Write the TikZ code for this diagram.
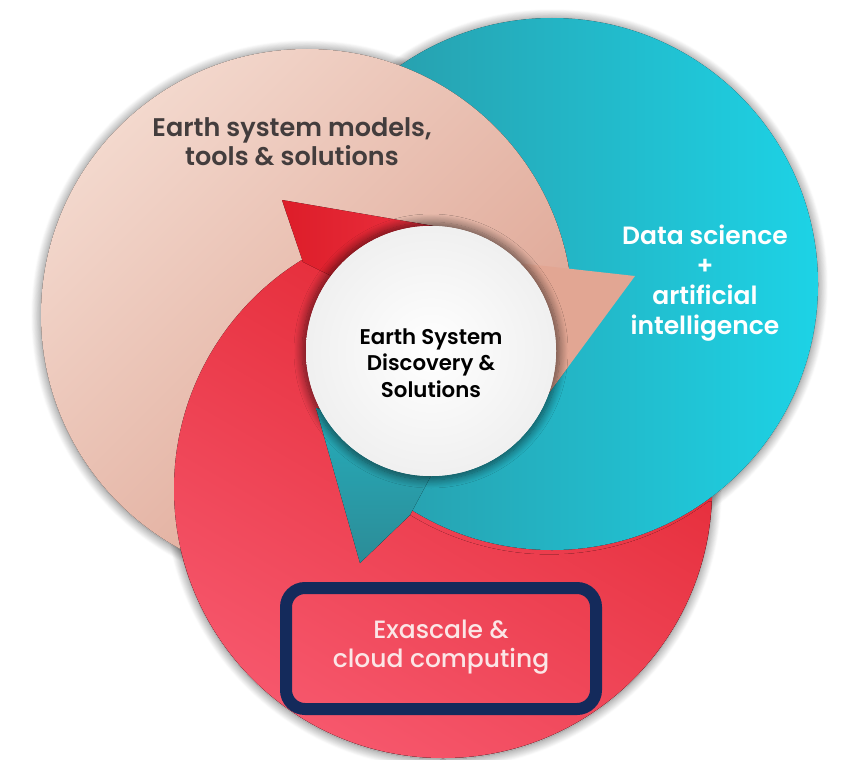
\documentclass[tikz,border=0pt]{standalone}
\usepackage{fontspec}
\newfontfamily\popsemi{Poppins SemiBold}
\newfontfamily\popmed{Poppins Medium}
\usetikzlibrary{shadows.blur}

\definecolor{peachA}{HTML}{F3D8CD}
\definecolor{peachB}{HTML}{DC9F8D}
\definecolor{peachArrow}{HTML}{E2A693}
\definecolor{tealA}{HTML}{2A94A1}
\definecolor{tealB}{HTML}{1DD3E6}
\definecolor{tealArrowA}{HTML}{25ADBB}
\definecolor{tealArrowB}{HTML}{2C8C97}
\definecolor{redA}{HTML}{E1222D}
\definecolor{redB}{HTML}{F6576C}
\definecolor{redArrowA}{HTML}{DD1D29}
\definecolor{redArrowB}{HTML}{EC3241}
\definecolor{navy}{HTML}{142A5B}
\definecolor{inkgray}{HTML}{433D3D}
\definecolor{softwhite}{HTML}{FBE6E6}

\tikzset{
  peachfill/.style={top color=peachA, bottom color=peachB, shading angle=45},
  tealfill/.style={left color=tealA, right color=tealB},
  redfill/.style={top color=redA, bottom color=redB, shading angle=-30},
  halo/.style={blur shadow={shadow xshift=0pt, shadow yshift=-1pt,
      shadow blur radius=10pt, shadow opacity=60, shadow blur steps=12}},
  corehalo/.style={blur shadow={shadow xshift=0pt, shadow yshift=0pt,
      shadow scale=1.03, shadow blur radius=8pt, shadow opacity=55,
      shadow blur steps=12}},
  labeltext/.style={align=center, inner sep=0pt},
}

\begin{document}
\begin{tikzpicture}[x=1pt, y=-1pt]
\useasboundingbox (0,0) rectangle (843,760);

% soft drop shadow below the three discs
\fill[white, halo] (443,489) circle[radius=269pt];
\fill[white, halo] (552,284) circle[radius=266pt];
\fill[white, halo] (307,315) circle[radius=266pt];

% red disc (bottom layer)
\fill[redfill] (443,489) circle[radius=269pt];
% teal disc
\fill[tealfill] (552,284) circle[radius=266pt];
% peach disc, cut away where teal and red run over it
\begin{scope}
  \clip (0,0) -- (843,0) -- (843,276) -- (635,276) -- (540,405) -- (430,352)
        -- (360,563) -- (300,760) -- (0,760) -- cycle;
  \fill[peachfill] (307,315) circle[radius=266pt];
\end{scope}
% peach arrowhead pointing into the teal disc
\fill[peachArrow] (500,261) -- (635,276) -- (540,405) -- cycle;

% red disc again, lying over peach on the left and filling everything
% below the teal rim
\begin{scope}
  \clip (0,154) -- (445,228) -- (430,352) -- (360,563) -- (410,515)
        arc[start angle=121.6, end angle=53.2, radius=266]
        -- (843,498) -- (843,760) -- (0,760) -- cycle;
  \fill[redfill] (443,489) circle[radius=269pt];
\end{scope}
% red arrowhead pointing into the peach disc
\fill[left color=redArrowA, right color=redArrowB]
  (282,200) -- (445,228) -- (380,300) -- (303,262) -- cycle;
% teal arrowhead pointing into the red disc
\fill[top color=tealArrowA, bottom color=tealArrowB]
  (316,408) -- (450,440) -- (410,515) -- (360,563) -- cycle;

% white core
\fill[white, corehalo] (431,351) circle[radius=125pt];
\shade[inner color=white, outer color=black!6] (431,351) circle[radius=125pt];

% labels
\node[labeltext, text=inkgray, font=\fontsize{25.5}{29}\selectfont\popsemi]
  (models) at (292,142) {Earth system models,\\tools \& solutions};
\node[labeltext, text=white, font=\fontsize{25}{30}\selectfont\popsemi]
  (datasci) at (705,283) {Data science\\+\\artificial\\intelligence};
\node[labeltext, text=black, font=\fontsize{21.3}{26.5}\selectfont\popsemi]
  (core) at (431,363) {Earth System\\Discovery \&\\Solutions};

% framed label in the red disc
\node[draw=navy, line width=12pt, rounded corners=19pt,
      minimum width=310pt, minimum height=121pt] (exabox) at (441,648.5) {};
\node[labeltext, text=softwhite, font=\fontsize{25}{29}\selectfont\popmed]
  (exa) at (441,647) {Exascale \&\\cloud computing};
\end{tikzpicture}
\end{document}
